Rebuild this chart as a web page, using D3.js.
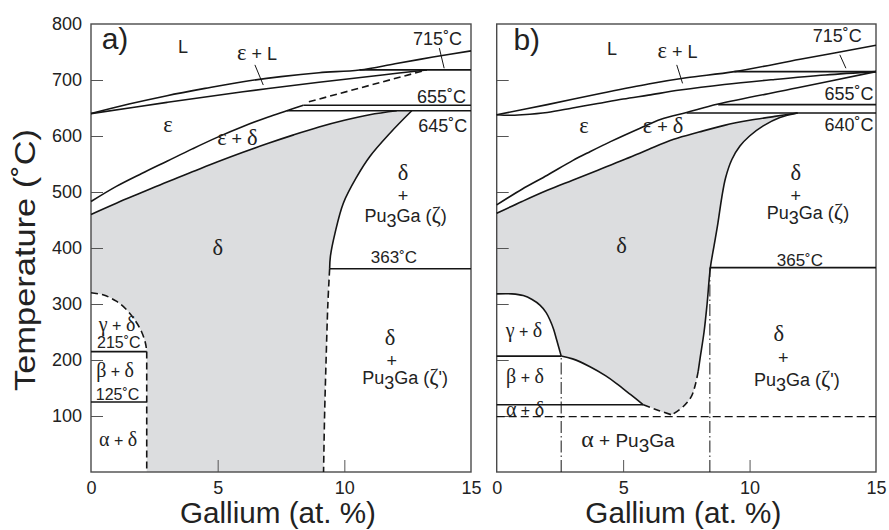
<!DOCTYPE html>
<html><head><meta charset="utf-8">
<script src="https://cdn.jsdelivr.net/npm/d3@7"></script>
<style>
body{margin:0;background:#fff}
svg text{font-family:'Liberation Sans',Arial,sans-serif;fill:#222}
</style>
</head><body>
<svg id="c" width="889" height="530"></svg>
<script>
// ---------- axis ticks ----------
const xTickValues = [0, 5, 10, 15];
const yTickValues = [100, 200, 300, 400, 500, 600, 700, 800];

// ---------- panel a) boundaries [Ga at.%, °C] ----------
const aLiquidus      = [[0,640],[1.5,657],[3,672],[4.5,685],[6,697],[7.5,706],[9,713],[10.6,718],[12,729],[13.5,741],[15,752]];
const aEpsSolidus    = [[0,640],[3,660],[6,679],[9,696],[11.5,709],[13.25,718]];
const aEpsDashed     = [[8.6,661],[13.25,718]];
const aEpsDelta      = [[0,483],[1,510],[2,533],[3,555],[4,577],[5,598],[6,617],[7,634],[7.73,645],[8.38,655]];
const aDeltaSolvus   = [[0,460],[1,480],[2,499],[3,518],[4,536],[5,554],[6,571],[7,587],[8,602],[9,616],[10,628],[11,638],[12.07,645]];
const aDeltaPu3Ga    = [[12.66,645],[11.8,605],[11.0,563],[10.49,527],[9.96,480],[9.63,426],[9.45,385],[9.42,363]];
const aDeltaPu3GaDash= [[9.42,363],[9.35,300],[9.28,200],[9.22,100],[9.18,0]];
const aGammaDash     = [[0,320],[0.5,316],[1.0,305],[1.4,290],[1.75,270],[2.0,250],[2.15,230],[2.2,215]];
const aGammaVertical = [[2.2,215],[2.2,0]];
const aIsotherms     = [{t:718,x0:10.6,x1:15},{t:655,x0:8.38,x1:15},{t:645,x0:7.73,x1:15},{t:363,x0:9.42,x1:15},{t:215,x0:0,x1:2.2},{t:125,x0:0,x1:2.2}];

// ---------- panel b) boundaries ----------
const bLiquidus      = [[0,638],[2,656],[4,675],[6,693],[7.5,704],[9.4,715],[12,737],[15,762]];
const bEpsSolidus    = [[0,638],[0.5,637],[1,638],[2,642],[3,650],[4,658],[5,666],[6,673],[7.25,682],[9,692],[11,701],[13,709],[15,715]];
const bEpsDelta      = [[0,477],[1,505],[2,530],[3,556],[3.69,572],[4.5,590],[5.67,614],[6.5,630],[7.51,642],[8.76,657],[11.9,686],[15,715]];
const bDeltaSolvus   = [[0,462],[1,483],[2,503],[3,521],[4,539],[5,557],[6,576],[7,594],[8,607],[9,619],[10,628],[11,635],[11.9,641]];
const bDeltaPu3Ga    = [[11.9,641],[11.2,633],[10.54,618],[10.0,600],[9.62,582],[9.3,558],[9.05,525],[8.9,490],[8.75,445],[8.6,405],[8.45,365],[8.32,300],[8.2,250],[8.05,205],[7.97,180]];
const bDeltaPu3GaDash= [[7.97,180],[7.85,155],[7.7,135],[7.38,117],[6.92,102]];
const bGamma         = [[0,318],[0.6,318],[1.05,315],[1.4,308],[1.71,298],[1.95,285],[2.11,271],[2.25,255],[2.37,236],[2.47,220],[2.55,207]];
const bBeta          = [[2.55,207],[3.0,202],[3.69,188],[4.3,172],[4.74,158],[5.3,138],[5.8,120]];
const bBetaDash      = [[5.8,120],[6.4,110],[6.92,102]];
const bIsotherms     = [{t:715,x0:9.4,x1:15},{t:656,x0:8.76,x1:15},{t:641,x0:7.51,x1:15},{t:365,x0:8.43,x1:15},{t:207,x0:0,x1:2.55},{t:120,x0:0,x1:5.8}];
const bDashedIsotherm= [{t:99,x0:0,x1:15}];
const bDashDot       = [{x:2.55,t0:0,t1:207},{x:8.43,t0:0,t1:365}];

// ---------- annotations (text, Ga at.%, °C) ----------
const aLabels = [
  {s:'a)', x:0.42, t:755, size:30, anchor:'start'},
  {s:'L', x:3.63, t:748, size:18},
  {s:'ε + L', x:6.55, t:736, size:18},
  {s:'715˚C', x:14.65, t:762, size:18, anchor:'end'},
  {s:'655˚C', x:14.8, t:659, size:18, anchor:'end'},
  {s:'645˚C', x:14.85, t:608, size:18, anchor:'end'},
  {s:'ε', x:3.04, t:607, size:18},
  {s:'ε + δ', x:5.78, t:584, size:18},
  {s:'δ', x:5.01, t:388, size:18},
  {s:'δ', x:12.32, t:521, size:18},
  {s:'+', x:12.32, t:482, size:18},
  {s:'Pu₃Ga (ζ)', x:12.42, t:446, size:18},
  {s:'363˚C', x:11.96, t:373, size:17},
  {s:'δ', x:11.8, t:227, size:18},
  {s:'+', x:11.87, t:188, size:18},
  {s:'Pu₃Ga (ζ\')', x:12.4, t:157, size:18},
  {s:'γ + δ', x:1.03, t:252, size:16},
  {s:'215˚C', x:1.1, t:221, size:16},
  {s:'β + δ', x:0.95, t:170, size:16},
  {s:'125˚C', x:1.05, t:129, size:16},
  {s:'α + δ', x:1.07, t:46, size:16}
];
const bLabels = [
  {s:'b)', x:0.66, t:754, size:30, anchor:'start'},
  {s:'L', x:4.56, t:745, size:18},
  {s:'ε + L', x:7.15, t:739, size:18},
  {s:'715˚C', x:14.44, t:768, size:18, anchor:'end'},
  {s:'655˚C', x:14.9, t:664, size:18, anchor:'end'},
  {s:'640˚C', x:14.9, t:609, size:18, anchor:'end'},
  {s:'ε', x:3.45, t:605, size:18},
  {s:'ε + δ', x:6.58, t:605, size:18},
  {s:'δ', x:4.94, t:391, size:18},
  {s:'δ', x:11.83, t:521, size:18},
  {s:'+', x:11.83, t:482, size:18},
  {s:'Pu₃Ga (ζ)', x:12.31, t:452, size:18},
  {s:'365˚C', x:11.99, t:368, size:17},
  {s:'δ', x:11.16, t:234, size:18},
  {s:'+', x:11.33, t:192, size:18},
  {s:'Pu₃Ga (ζ\')', x:11.87, t:154, size:18},
  {s:'γ + δ', x:1.08, t:241, size:16},
  {s:'β + δ', x:1.12, t:159, size:16},
  {s:'α + δ', x:1.12, t:100, size:16},
  {s:'α + Pu₃Ga', x:5.19, t:45, size:19}
];
const aLeaders = [[[6.47,727],[6.8,691]],[[13.75,757],[13.94,721]]];
const bLeaders = [[[7.12,727],[7.35,694]],[[13.57,745],[13.81,721]]];

// ---------- drawing ----------
const GRAY = '#dcdddf', INK = '#151515';
const svg = d3.select('#c');
const y = d3.scaleLinear().domain([0, 800]).range([472, 24]);
const xA = d3.scaleLinear().domain([0, 15]).range([91, 471]);
const xB = d3.scaleLinear().domain([0, 15]).range([496.7, 876]);

function lineGen(x) {
  return d3.line().x(d => x(d[0])).y(d => y(d[1])).curve(d3.curveCatmullRom.alpha(0.5));
}
function regionPath(x, segs) {
  const lg = lineGen(x);
  let d = '';
  segs.forEach((s, i) => { let p = lg(s); if (i > 0) p = 'L' + p.slice(1); d += p; });
  return d + 'Z';
}
function addText(g, px, py, str, size, anchor) {
  const t = g.append('text').attr('x', px).attr('y', py)
    .attr('font-size', size).attr('text-anchor', anchor || 'middle');
  let shift = 0;
  const runs = [];
  for (const c of str) {
    let type = /[α-ωΑ-Ω]/.test(c) ? 'g' : (c === '₃' ? 's' : 'n');
    const last = runs[runs.length - 1];
    if (last && last.type === type && type !== 's') last.s += c;
    else runs.push({type, s: c === '₃' ? '3' : c});
  }
  runs.forEach(r => {
    const ts = t.append('tspan').text(r.s);
    if (r.type === 'g') ts.attr('font-family', "'Liberation Serif','DejaVu Serif',serif").attr('font-size', size * 1.25);
    if (r.type === 's') { ts.attr('dy', '0.28em'); shift = 1; }
    else if (shift) { ts.attr('dy', '-0.28em'); shift = 0; }
  });
  return t;
}

function drawPanel(x, P) {
  const g = svg.append('g');
  g.append('path').attr('d', regionPath(x, P.region)).attr('fill', GRAY).attr('stroke', 'none');

  const ax = g.append('g').attr('transform', 'translate(0,472)')
    .call(d3.axisBottom(x).tickValues(xTickValues).tickSizeInner(-12).tickSizeOuter(0).tickPadding(9).tickFormat(d3.format('d')));
  const ay = g.append('g').attr('transform', `translate(${x(0)},0)`)
    .call(d3.axisLeft(y).tickValues(yTickValues).tickSizeInner(-12).tickSizeOuter(0).tickPadding(9)
      .tickFormat(P.yLabels ? d3.format('d') : () => ''));
  [ax, ay].forEach(a => {
    a.select('.domain').remove();
    a.selectAll('line').attr('stroke', '#555').attr('stroke-width', 1);
    a.selectAll('text').attr('font-size', 18).attr('fill', '#222')
      .attr('font-family', "'Liberation Sans',Arial,sans-serif");
  });
  ax.selectAll('.tick').filter(d => d === 0 || d === 15).select('line').remove();
  ay.selectAll('.tick').filter(d => d === 800).select('line').remove();

  g.append('rect').attr('x', x(0)).attr('y', y(800)).attr('width', x(15) - x(0)).attr('height', y(0) - y(800))
    .attr('fill', 'none').attr('stroke', '#4a4a4a').attr('stroke-width', 1.4);

  const lg = lineGen(x);
  P.solid.forEach(s => g.append('path').attr('d', lg(s)).attr('fill', 'none').attr('stroke', INK).attr('stroke-width', 1.6));
  P.dashed.forEach(s => g.append('path').attr('d', lg(s)).attr('fill', 'none').attr('stroke', INK)
    .attr('stroke-width', 1.6).attr('stroke-dasharray', '7,4'));
  P.iso.forEach(h => g.append('line').attr('x1', x(h.x0)).attr('x2', x(h.x1)).attr('y1', y(h.t)).attr('y2', y(h.t))
    .attr('stroke', INK).attr('stroke-width', 1.6));
  (P.dashIso || []).forEach(h => g.append('line').attr('x1', x(h.x0)).attr('x2', x(h.x1)).attr('y1', y(h.t)).attr('y2', y(h.t))
    .attr('stroke', INK).attr('stroke-width', 1.3).attr('stroke-dasharray', '8,4'));
  (P.dashDot || []).forEach(v => g.append('line').attr('x1', x(v.x)).attr('x2', x(v.x)).attr('y1', y(v.t0)).attr('y2', y(v.t1))
    .attr('stroke', INK).attr('stroke-width', 1).attr('stroke-dasharray', '12,3,1.5,3'));
  P.leaders.forEach(l => g.append('line').attr('x1', x(l[0][0])).attr('y1', y(l[0][1])).attr('x2', x(l[1][0])).attr('y2', y(l[1][1]))
    .attr('stroke', INK).attr('stroke-width', 1));
  P.labels.forEach(L => addText(g, x(L.x), y(L.t), L.s, L.size, L.anchor));
  addText(g, (x(0) + x(15)) / 2 - 3, 523, 'Gallium (at. %)', 29, 'middle')
    .attr('textLength', 196).attr('lengthAdjust', 'spacingAndGlyphs');
}

drawPanel(xA, {
  yLabels: true,
  region: [aDeltaSolvus, [[12.07,645],[12.66,645]], aDeltaPu3Ga, aDeltaPu3GaDash, [[9.18,0],[2.2,0]],
           aGammaVertical.slice().reverse(), aGammaDash.slice().reverse(), [[0,320],[0,460]]],
  solid: [aLiquidus, aEpsSolidus, aEpsDelta, aDeltaSolvus, aDeltaPu3Ga],
  dashed: [aEpsDashed, aDeltaPu3GaDash, aGammaDash, aGammaVertical],
  iso: aIsotherms,
  leaders: aLeaders,
  labels: aLabels
});
drawPanel(xB, {
  yLabels: false,
  region: [bDeltaSolvus, bDeltaPu3Ga, bDeltaPu3GaDash, bBetaDash.slice().reverse(), bBeta.slice().reverse(),
           bGamma.slice().reverse(), [[0,318],[0,462]]],
  solid: [bLiquidus, bEpsSolidus, bEpsDelta, bDeltaSolvus, bDeltaPu3Ga, bGamma, bBeta],
  dashed: [bDeltaPu3GaDash, bBetaDash],
  iso: bIsotherms,
  dashIso: bDashedIsotherm,
  dashDot: bDashDot,
  leaders: bLeaders,
  labels: bLabels
});

svg.append('text').attr('transform', 'translate(35,260) rotate(-90)')
  .attr('text-anchor', 'middle').attr('font-size', 30)
  .attr('textLength', 262).attr('lengthAdjust', 'spacingAndGlyphs').text('Temperature (˚C)');
</script>
</body></html>
